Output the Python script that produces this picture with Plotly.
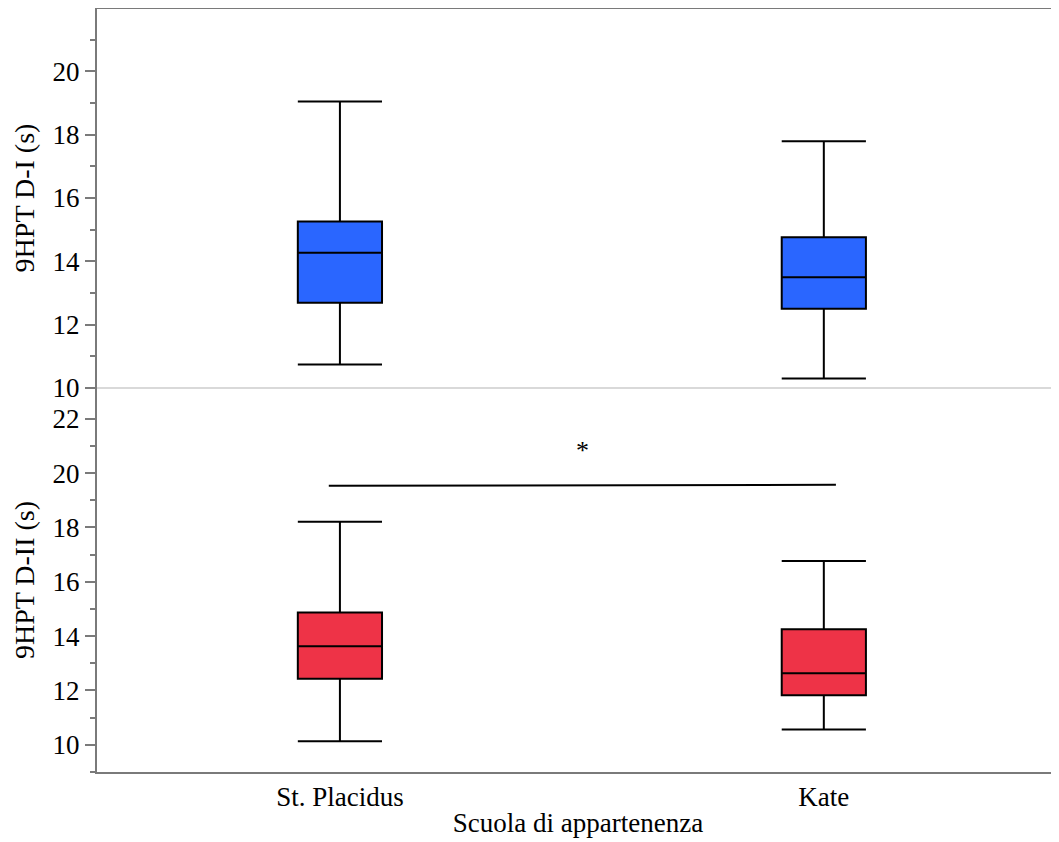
import plotly.graph_objects as go

schools = ["St. Placidus", "Kate"]
positions = [0, 1]

# 9HPT D-I (s)
d1_lower = [10.74, 10.30]
d1_q1 = [12.69, 12.50]
d1_median = [14.27, 13.50]
d1_q3 = [15.26, 14.76]
d1_upper = [19.05, 17.79]

# 9HPT D-II (s)
d2_lower = [10.13, 10.56]
d2_q1 = [12.43, 11.82]
d2_median = [13.63, 12.63]
d2_q3 = [14.87, 14.25]
d2_upper = [18.21, 16.76]

sig_label = "*"
sig_x = [-0.023, 1.025]
sig_y = [19.53, 19.57]
sig_label_y = 20.83

top_ticks = [10, 12, 14, 16, 18, 20]
top_minor = [11, 13, 15, 17, 19, 21]
bot_ticks = [10, 12, 14, 16, 18, 20, 22]
bot_minor = [9, 11, 13, 15, 17, 19, 21]

FONT = "Liberation Serif"
AX = "#7a7a7a"
SPLIT = 0.5026

fig = go.Figure()
fig.add_trace(go.Box(
    x=positions, q1=d1_q1, median=d1_median, q3=d1_q3,
    lowerfence=d1_lower, upperfence=d1_upper,
    fillcolor="#2a66ff", line=dict(color="black", width=2),
    whiskerwidth=1, width=0.174, boxpoints=False,
    xaxis="x", yaxis="y", showlegend=False, hoverinfo="y"))
fig.add_trace(go.Box(
    x=positions, q1=d2_q1, median=d2_median, q3=d2_q3,
    lowerfence=d2_lower, upperfence=d2_upper,
    fillcolor="#ee3347", line=dict(color="black", width=2),
    whiskerwidth=1, width=0.174, boxpoints=False,
    xaxis="x", yaxis="y2", showlegend=False, hoverinfo="y"))

# significance bar
fig.add_trace(go.Scatter(
    x=sig_x, y=sig_y, mode="lines",
    line=dict(color="black", width=2), xaxis="x", yaxis="y2",
    showlegend=False, hoverinfo="skip"))
fig.add_annotation(x=0.502, y=sig_label_y, xref="x", yref="y2",
                   text=sig_label, showarrow=False,
                   font=dict(family=FONT, size=26, color="black"))

ytickfont = dict(family=FONT, size=27, color="black")
xtickfont = dict(family=FONT, size=27, color="black")
xtitlefont = dict(family=FONT, size=27, color="black")
ytitlefont = dict(family=FONT, size=28, color="black")

fig.update_layout(
    width=1051, height=834,
    margin=dict(l=89, r=0, t=0, b=70),
    paper_bgcolor="white", plot_bgcolor="white",
    font=dict(family=FONT, size=27, color="black"),
    boxmode="overlay",
    xaxis=dict(
        anchor="y2", type="linear", range=[-0.502, 1.486],
        tickvals=positions, ticktext=schools, tickfont=xtickfont,
        showline=True, linecolor=AX, linewidth=2, ticks="",
        showgrid=False, zeroline=False, automargin=False,
        title=dict(text="Scuola di appartenenza", font=xtitlefont, standoff=2),
    ),
    yaxis=dict(
        domain=[SPLIT, 1], range=[10, 22], tickvals=top_ticks,
        tickfont=ytickfont, showline=True, linecolor=AX, linewidth=2,
        ticks="outside", ticklen=10, tickwidth=2, tickcolor=AX,
        minor=dict(tickvals=top_minor, ticks="outside", ticklen=5,
                   tickwidth=2, tickcolor=AX),
        showgrid=False, zeroline=False, automargin=False,
        title=dict(text="9HPT D-I (s)", font=ytitlefont, standoff=10),
    ),
    yaxis2=dict(
        domain=[0, SPLIT], range=[9, 23.13], tickvals=bot_ticks,
        tickfont=ytickfont, showline=True, linecolor=AX, linewidth=2,
        ticks="outside", ticklen=10, tickwidth=2, tickcolor=AX,
        minor=dict(tickvals=bot_minor, ticks="outside", ticklen=5,
                   tickwidth=2, tickcolor=AX),
        showgrid=False, zeroline=False, anchor="x", automargin=False,
        title=dict(text="9HPT D-II (s)", font=ytitlefont, standoff=10),
    ),
    shapes=[
        dict(type="line", xref="paper", yref="paper", x0=0, x1=1,
             y0=SPLIT, y1=SPLIT, line=dict(color="#d9d9d9", width=2)),
        dict(type="line", xref="paper", yref="paper", x0=0, x1=1,
             y0=1, y1=1, line=dict(color=AX, width=2)),
    ],
)

fig.write_html("out.html")
